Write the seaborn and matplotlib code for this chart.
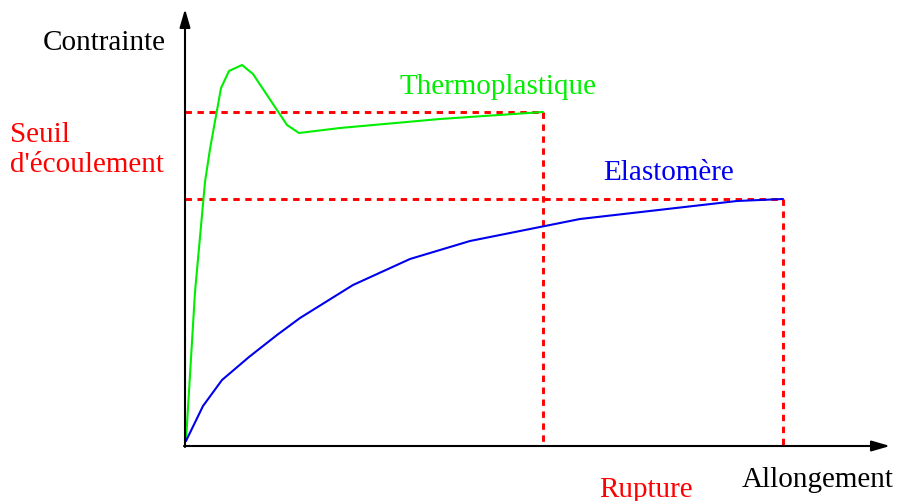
import matplotlib
matplotlib.use("Agg")
import matplotlib.pyplot as plt
import seaborn as sns
import pandas as pd

# Data (elongation, stress) in arbitrary units
thermo_x = [1, 10, 20, 25, 36, 44, 57, 68, 102, 114, 155, 255, 358]
thermo_y = [5, 154, 264, 297, 358, 375, 381, 372, 321, 313, 318, 327, 334]
elast_x = [1, 18, 37, 64, 92, 115, 168, 225, 285, 355, 395, 552, 598]
elast_y = [5, 40, 66, 89, 111, 128, 161, 187, 205, 219, 227, 245, 247]

thermo_rupture = (358, 334)
elast_rupture = (598, 247)

labels = {
    "ylabel": "Contrainte",
    "xlabel": "Allongement",
    "thermo": "Thermoplastique",
    "elast": "Elastomère",
    "seuil": "Seuil\nd'écoulement",
    "rupture": "Rupture",
}

sns.set_style("white")
plt.rcParams["font.family"] = ["Liberation Serif", "DejaVu Serif"]

fig = plt.figure(figsize=(9.1, 5.02), dpi=100)
ax = fig.add_axes([0, 0, 1, 1])
ax.set_xlim(-185, 725)
ax.set_ylim(-55, 447)
ax.axis("off")

df = pd.concat([
    pd.DataFrame({"x": thermo_x, "y": thermo_y, "type": "thermo"}),
    pd.DataFrame({"x": elast_x, "y": elast_y, "type": "elast"}),
])
sns.lineplot(data=df, x="x", y="y", hue="type", sort=False, estimator=None,
             palette={"thermo": "#00ee00", "elast": "#0000ee"},
             linewidth=1.5, legend=False, ax=ax)

# dashed guide lines
dash = dict(color="red", linestyle=(0, (2.2, 1.9)), linewidth=2.1, zorder=1)
for rx, ry in [thermo_rupture, elast_rupture]:
    ax.plot([0, rx], [ry, ry], **dash)
    ax.plot([rx, rx], [ry, 0], **dash)

# axes with arrows
arrow = dict(arrowstyle="-|>,head_length=1.1,head_width=0.32", color="black",
             lw=1.5, shrinkA=0, shrinkB=0)
ax.annotate("", xy=(705, 0), xytext=(-1, 0), arrowprops=arrow)
ax.annotate("", xy=(0, 437), xytext=(0, -1), arrowprops=arrow)

fs = 21
ax.text(-81, 404, labels["ylabel"], fontsize=fs, ha="center", va="center", color="black")
ax.text(633, -33, labels["xlabel"], fontsize=fs, ha="center", va="center", color="black")
ax.text(313, 360, labels["thermo"], fontsize=fs, ha="center", va="center", color="#00ee00")
ax.text(484, 274, labels["elast"], fontsize=fs, ha="center", va="center", color="#0000ee")
ax.text(-175, 297, labels["seuil"], fontsize=fs, ha="left", va="center", color="red",
        linespacing=1.25)
ax.text(461, -43, labels["rupture"], fontsize=fs, ha="center", va="center", color="red")

fig.savefig("out.png", dpi=100)
